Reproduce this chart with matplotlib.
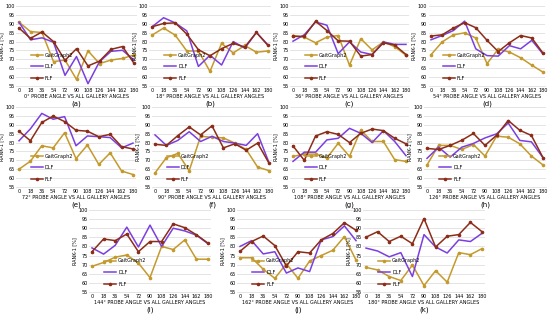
import matplotlib
matplotlib.use("Agg")
import matplotlib.pyplot as plt

angles = [0, 18, 36, 54, 72, 90, 108, 126, 144, 162, 180]
probe_angles = [0, 18, 36, 54, 72, 90, 108, 126, 144, 162, 180]
panel_letters = ["(a)", "(b)", "(c)", "(d)", "(e)", "(f)", "(g)", "(h)", "(i)", "(j)", "(k)"]
series_names = ["GaitGraph2", "DLF", "FLF"]
yticks = [55, 60, 65, 70, 75, 80, 85, 90, 95, 100]

gaitgraph2 = [
    [90.9, 85.6, 85.1, 68.7, 69.6, 58.7, 74.8, 67.6, 69.6, 70.5, 72.5],
    [83.6, 87.6, 83.6, 74.7, 74.7, 63.2, 79.0, 73.6, 77.8, 74.0, 74.7],
    [83.4, 82.5, 79.3, 82.5, 83.4, 66.7, 81.6, 75.3, 79.8, 77.1, 72.3],
    [72.6, 79.8, 83.8, 84.9, 82.0, 67.6, 75.7, 74.1, 70.9, 66.7, 62.8],
    [65.0, 69.5, 78.2, 77.0, 85.5, 71.0, 78.6, 67.7, 74.2, 64.0, 62.0],
    [62.9, 71.5, 73.9, 64.2, 83.5, 83.0, 82.6, 79.7, 76.1, 66.2, 64.2],
    [72.2, 73.5, 73.5, 71.3, 79.6, 72.2, 87.0, 80.6, 80.6, 70.4, 69.4],
    [67.4, 78.4, 78.4, 76.1, 78.9, 72.4, 83.6, 83.0, 79.3, 72.4, 67.4],
    [69.1, 71.2, 74.1, 75.3, 70.9, 62.9, 80.0, 78.3, 83.6, 73.0, 73.0],
    [73.8, 73.8, 67.5, 62.5, 70.5, 62.5, 72.0, 75.0, 77.9, 85.4, 72.5],
    [68.5, 67.1, 63.5, 61.3, 69.8, 58.5, 66.7, 60.4, 76.6, 75.5, 78.8],
]
dlf = [
    [90.9, 81.0, 82.1, 79.6, 61.0, 71.6, 56.3, 68.7, 74.5, 75.1, 69.6],
    [88.3, 93.4, 90.5, 86.0, 66.0, 72.3, 66.8, 80.0, 76.3, 85.1, 78.1],
    [80.2, 83.8, 91.0, 89.2, 73.2, 79.8, 74.1, 72.7, 79.8, 78.4, 78.4],
    [81.0, 83.4, 86.2, 91.5, 75.9, 72.1, 71.8, 77.7, 75.9, 80.7, 73.0],
    [81.0, 87.7, 96.4, 93.1, 94.6, 78.2, 83.7, 83.3, 82.8, 77.0, 79.7],
    [84.3, 78.4, 81.2, 86.1, 80.6, 83.5, 80.6, 79.7, 78.4, 85.0, 68.7],
    [69.4, 74.6, 74.6, 81.5, 82.4, 88.0, 85.2, 80.0, 86.7, 80.6, 72.6],
    [71.1, 77.4, 71.8, 77.4, 79.5, 82.6, 84.9, 91.0, 81.2, 80.4, 71.5],
    [79.2, 75.8, 80.6, 90.6, 79.7, 91.7, 80.0, 90.0, 88.5, 86.2, 81.5],
    [80.0, 83.2, 75.9, 77.1, 65.4, 68.2, 66.2, 83.6, 85.4, 91.3, 83.2],
    [79.1, 77.5, 74.3, 76.6, 63.5, 86.5, 79.7, 76.4, 83.6, 82.7, 87.2],
]
flf = [
    [87.6, 81.8, 85.4, 80.0, 69.4, 76.0, 66.3, 69.0, 75.6, 77.2, 67.8],
    [88.3, 90.2, 90.5, 84.2, 75.4, 72.0, 76.0, 79.0, 76.9, 85.1, 77.8],
    [82.9, 82.9, 91.4, 86.2, 80.4, 80.2, 71.8, 72.7, 79.3, 78.0, 72.7],
    [83.1, 83.8, 87.6, 90.6, 87.8, 80.7, 74.4, 79.3, 83.4, 82.0, 73.5],
    [86.4, 81.0, 91.3, 94.9, 91.8, 86.9, 86.4, 83.3, 84.6, 77.7, 76.4],
    [79.0, 78.4, 83.9, 88.8, 84.3, 89.4, 77.0, 79.3, 75.7, 79.7, 68.4],
    [78.1, 70.0, 83.7, 86.1, 84.6, 80.0, 85.2, 87.6, 86.7, 82.4, 79.3],
    [76.7, 76.1, 78.4, 81.3, 85.1, 78.4, 84.1, 92.4, 86.9, 84.0, 71.5],
    [77.1, 84.1, 83.2, 86.8, 77.1, 82.7, 82.7, 92.4, 90.3, 86.4, 81.8],
    [77.3, 82.7, 85.7, 80.5, 69.3, 77.1, 76.4, 83.6, 87.1, 93.0, 88.9],
    [85.1, 88.1, 82.7, 85.6, 81.5, 95.3, 79.7, 85.6, 86.5, 93.2, 88.1],
]

W, H = 550, 323
# axes boxes in pixels: (x0, x1, ytop, ybottom)
boxes = [
    (19, 134, 6, 86), (152, 268, 6, 86), (293, 406, 6, 86), (431, 543, 6, 86),
    (19, 133, 107, 187), (155, 269, 107, 187), (293, 406, 107, 187), (427, 543, 107, 187),
    (92, 208, 210, 292), (240, 356, 210, 292), (366, 482, 210, 292),
]
colors = ["#C49A2C", "#7B3FE0", "#8C2D19"]
markers = ["o", None, "o"]

fig = plt.figure(figsize=(W / 100, H / 100), dpi=100)
fs = 3.5
for i, (x0, x1, yt, yb) in enumerate(boxes):
    pad = (x1 - x0) * 4 / 180
    ax = fig.add_axes([(x0 - pad) / W, 1 - yb / H, (x1 - x0 + 2 * pad) / W, (yb - yt) / H])
    for s, (vals, c, m) in enumerate(zip([gaitgraph2[i], dlf[i], flf[i]], colors, markers)):
        ax.plot(angles, vals, color=c, lw=1.1, marker=m, ms=1.6, label=series_names[s])
    ax.set_xlim(-4, 184)
    ax.set_ylim(55, 100)
    ax.set_xticks(angles)
    ax.set_yticks(yticks)
    ax.tick_params(labelsize=fs, length=0, pad=1.2)
    ax.grid(axis="y", color="#D9D9D9", lw=0.5)
    ax.set_axisbelow(True)
    for sp in ["top", "right", "left"]:
        ax.spines[sp].set_visible(False)
    ax.spines["bottom"].set_color("#D9D9D9")
    ax.spines["bottom"].set_linewidth(0.5)
    ax.set_ylabel("RANK-1 [%]", fontsize=fs, labelpad=0.8)
    ax.set_xlabel(f"{probe_angles[i]}° PROBE ANGLE VS ALL GALLERY ANGLES", fontsize=fs, labelpad=0.8)
    fig.text((x0 + x1) / 2 / W, 1 - (yb + 18) / H, panel_letters[i], ha="center", va="center",
             fontsize=5)
    ax.legend(loc="lower left", bbox_to_anchor=(0.1, 0.03), frameon=False, fontsize=fs,
              labelspacing=1.35, handlelength=2.4, handletextpad=0.4, borderaxespad=0.2)

fig.savefig("out.png", dpi=100)
